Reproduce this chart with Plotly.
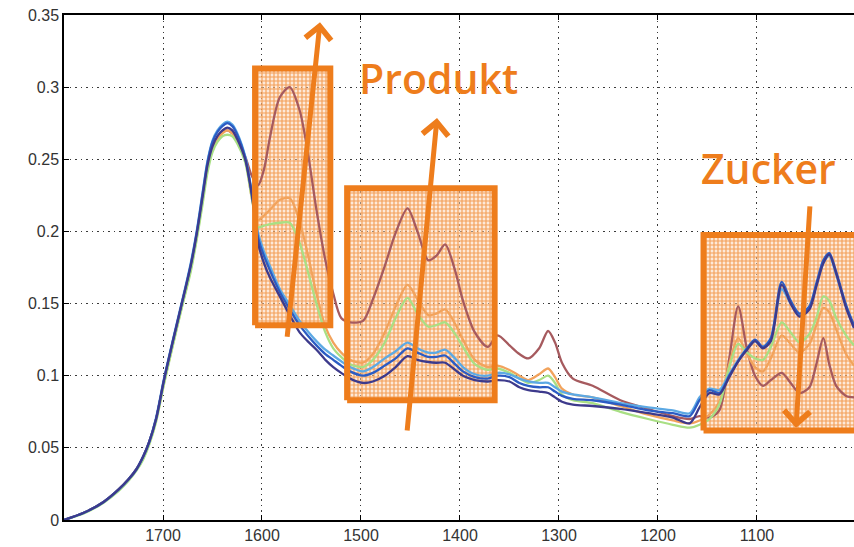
import plotly.graph_objects as go

# Wavenumber grid (cm^-1), shared by all spectra
wavenumber = [
    1800, 1780, 1760, 1745, 1735, 1727, 1720, 1714, 1707, 1699,
    1690, 1681, 1672, 1666, 1660, 1655, 1650, 1645, 1640, 1635,
    1630, 1625, 1617,
    1610, 1604, 1598, 1592, 1582, 1572, 1562, 1554, 1545, 1536,
    1528, 1520, 1511, 1498, 1488, 1476, 1465, 1453, 1443, 1432,
    1424, 1415, 1405, 1397, 1385, 1372, 1362, 1350, 1340, 1331,
    1320, 1311, 1304, 1297, 1286, 1266, 1238, 1210, 1185, 1168,
    1158, 1148, 1138, 1128, 1119, 1110, 1102, 1094, 1086, 1075,
    1066, 1057, 1047, 1040, 1033, 1027, 1020, 1010, 1002,
]

# Absorbance spectra
absorb_navy = [
    0.000, 0.005, 0.0125, 0.021, 0.028, 0.035, 0.044, 0.054, 0.070, 0.097,
    0.124, 0.150, 0.176, 0.198, 0.224, 0.246, 0.259, 0.266, 0.270, 0.272,
    0.270, 0.264, 0.250,
    0.224, 0.192, 0.178, 0.168, 0.155, 0.142, 0.130, 0.124, 0.118, 0.111,
    0.106, 0.102, 0.098, 0.095, 0.096, 0.100, 0.106, 0.1135, 0.111, 0.1095,
    0.109, 0.109, 0.104, 0.100, 0.097, 0.096, 0.097, 0.096, 0.092, 0.090,
    0.089, 0.088, 0.085, 0.082, 0.080, 0.079, 0.077, 0.074, 0.071, 0.067,
    0.078, 0.088, 0.087, 0.099, 0.110, 0.118, 0.124, 0.119, 0.124, 0.163,
    0.150, 0.141, 0.146, 0.162, 0.178, 0.184, 0.171, 0.147, 0.133,
]
absorb_blue = [
    0.000, 0.005, 0.0125, 0.021, 0.028, 0.035, 0.044, 0.054, 0.070, 0.097,
    0.124, 0.150, 0.177, 0.199, 0.226, 0.248, 0.262, 0.269, 0.273, 0.275,
    0.273, 0.267, 0.251,
    0.225, 0.196, 0.183, 0.173, 0.158, 0.146, 0.135, 0.128, 0.121, 0.115,
    0.111, 0.107, 0.103, 0.100, 0.102, 0.107, 0.112, 0.119, 0.116, 0.113,
    0.113, 0.114, 0.108, 0.103, 0.099, 0.098, 0.100, 0.099, 0.095, 0.093,
    0.092, 0.092, 0.089, 0.086, 0.084, 0.083, 0.080, 0.076, 0.074, 0.072,
    0.083, 0.090, 0.088, 0.100, 0.110, 0.119, 0.125, 0.120, 0.126, 0.165,
    0.152, 0.143, 0.148, 0.164, 0.180, 0.185, 0.172, 0.149, 0.135,
]
absorb_lightblue = [
    0.000, 0.005, 0.0125, 0.021, 0.028, 0.035, 0.044, 0.054, 0.071, 0.098,
    0.125, 0.151, 0.178, 0.200, 0.227, 0.249, 0.263, 0.270, 0.274, 0.276,
    0.274, 0.268, 0.252,
    0.226, 0.199, 0.186, 0.176, 0.160, 0.149, 0.138, 0.131, 0.124, 0.118,
    0.114, 0.110, 0.106, 0.103, 0.106, 0.112, 0.117, 0.123, 0.119, 0.116,
    0.116, 0.118, 0.112, 0.106, 0.101, 0.100, 0.102, 0.101, 0.098, 0.096,
    0.095, 0.095, 0.092, 0.089, 0.087, 0.085, 0.081, 0.078, 0.076, 0.074,
    0.085, 0.091, 0.090, 0.101, 0.111, 0.119, 0.124, 0.120, 0.126, 0.160,
    0.150, 0.142, 0.148, 0.163, 0.178, 0.183, 0.170, 0.148, 0.134,
]
absorb_green = [
    0.000, 0.0045, 0.012, 0.020, 0.027, 0.034, 0.042, 0.052, 0.068, 0.094,
    0.121, 0.147, 0.172, 0.194, 0.219, 0.241, 0.255, 0.262, 0.266, 0.267,
    0.266, 0.261, 0.248,
    0.222, 0.203, 0.204, 0.205, 0.206, 0.206, 0.192, 0.173, 0.150, 0.130,
    0.119, 0.113, 0.108, 0.106, 0.111, 0.123, 0.140, 0.154, 0.143, 0.134,
    0.135, 0.137, 0.129, 0.120, 0.108, 0.104, 0.105, 0.102, 0.098, 0.095,
    0.097, 0.100, 0.095, 0.087, 0.083, 0.081, 0.075, 0.070, 0.066, 0.064,
    0.066, 0.070, 0.080, 0.106, 0.122, 0.116, 0.112, 0.111, 0.120, 0.137,
    0.130, 0.123, 0.129, 0.140, 0.155, 0.152, 0.140, 0.128, 0.121,
]
absorb_orange = [
    0.000, 0.005, 0.0125, 0.021, 0.028, 0.035, 0.043, 0.053, 0.069, 0.095,
    0.122, 0.148, 0.174, 0.196, 0.222, 0.244, 0.257, 0.264, 0.268, 0.270,
    0.268, 0.263, 0.250,
    0.222, 0.208, 0.211, 0.215, 0.222, 0.223, 0.207, 0.185, 0.157, 0.134,
    0.123, 0.116, 0.111, 0.109, 0.115, 0.130, 0.148, 0.163, 0.153, 0.142,
    0.143, 0.146, 0.136, 0.125, 0.111, 0.106, 0.107, 0.104, 0.100, 0.097,
    0.101, 0.105, 0.099, 0.091, 0.087, 0.085, 0.079, 0.073, 0.069, 0.067,
    0.069, 0.073, 0.082, 0.108, 0.126, 0.115, 0.106, 0.103, 0.112, 0.128,
    0.122, 0.116, 0.122, 0.135, 0.147, 0.144, 0.132, 0.115, 0.107,
]
absorb_brown = [
    0.000, 0.005, 0.0125, 0.021, 0.028, 0.035, 0.044, 0.054, 0.070, 0.096,
    0.123, 0.149, 0.175, 0.197, 0.223, 0.245, 0.258, 0.265, 0.269, 0.270,
    0.268, 0.264, 0.252,
    0.238, 0.232, 0.243, 0.265, 0.293, 0.300, 0.284, 0.256, 0.215, 0.180,
    0.157, 0.140, 0.137, 0.138, 0.153, 0.176, 0.199, 0.216, 0.200, 0.180,
    0.183, 0.191, 0.173, 0.152, 0.130, 0.120, 0.128, 0.121, 0.115, 0.112,
    0.119, 0.131, 0.123, 0.109, 0.098, 0.093, 0.083, 0.077, 0.072, 0.070,
    0.072, 0.071, 0.076, 0.112, 0.148, 0.118, 0.100, 0.093, 0.097, 0.102,
    0.095, 0.088, 0.092, 0.108, 0.126, 0.108, 0.093, 0.086, 0.085,
]

spectra = [
    (absorb_brown, "#a65a5e"),
    (absorb_orange, "#f2a35c"),
    (absorb_green, "#a9df84"),
    (absorb_lightblue, "#5ca9e4"),
    (absorb_blue, "#2b5cc4"),
    (absorb_navy, "#3d3a8c"),
]

# Highlighted bands: (wn left, wn right, absorbance bottom, absorbance top)
band_c = [1607, 1531, 0.135, 0.313]
band_amide = [1514, 1365, 0.083, 0.230]
band_sugar = [1154, 996, 0.062, 0.1975]
bands = [band_c, band_amide, band_sugar]

# Trend arrows: head position (wn, absorbance) and tail offset in pixels
arrow_heads = [(1541.4, 0.345), (1423.2, 0.2786), (1060.6, 0.0638)]
arrow_tails = [(-33, 316), (-30, 314), (14, -223)]

ORANGE = "#ee7d1c"
fig = go.Figure()


def band_outline(band):
    left, right, bottom, top = band
    return [left, right, right, left, left], [bottom, bottom, top, top, bottom]


# Hatched band fills sit underneath the spectra
for band in bands:
    bx, by = band_outline(band)
    fig.add_trace(go.Scatter(
        x=bx, y=by, mode="lines", fill="toself",
        fillcolor="rgba(247,185,135,0.45)",
        fillpattern=dict(shape="+", size=4, solidity=0.5,
                         fgcolor="#f08c38", fgopacity=0.8,
                         bgcolor="rgba(252,212,180,0.5)"),
        line=dict(width=0, color="rgba(0,0,0,0)"),
        showlegend=False, hoverinfo="skip",
    ))

for values, color in spectra:
    fig.add_trace(go.Scatter(
        x=wavenumber, y=values, mode="lines",
        line=dict(color=color, width=2.3, shape="spline", smoothing=0.8),
        showlegend=False, hoverinfo="skip",
    ))

# Band frames drawn over the spectra
for band in bands:
    bx, by = band_outline(band)
    fig.add_trace(go.Scatter(
        x=bx, y=by, mode="lines",
        line=dict(color=ORANGE, width=6),
        showlegend=False, hoverinfo="skip",
    ))

annotations = []
for (hx, hy), (ax, ay) in zip(arrow_heads, arrow_tails):
    annotations.append(dict(
        x=hx, y=hy, xref="x", yref="y", text="",
        showarrow=True, axref="pixel", ayref="pixel", ax=ax, ay=ay,
        arrowhead=4, arrowsize=1.0, arrowwidth=5, arrowcolor=ORANGE,
        standoff=0,
    ))
label_font = dict(family="Open Sans", size=41, color=ORANGE, weight=600)
annotations.append(dict(x=1422, y=0.306, xref="x", yref="y", text="Produkt",
                        showarrow=False, xanchor="center", yanchor="middle",
                        font=label_font))
annotations.append(dict(x=1088, y=0.244, xref="x", yref="y", text="Zucker",
                        showarrow=False, xanchor="center", yanchor="middle",
                        font=label_font))

tick_font = dict(family="Liberation Sans", size=16, color="#333333")
grid_style = dict(showgrid=True, gridcolor="#3a3a3a", gridwidth=1.4,
                  griddash="1.5px,4px")
fig.update_layout(
    width=854, height=547,
    margin=dict(l=64, r=0, t=15, b=27),
    paper_bgcolor="white", plot_bgcolor="white",
    annotations=annotations,
    xaxis=dict(
        range=[1800, 1002],
        tickvals=[1700, 1600, 1500, 1400, 1300, 1200, 1100],
        ticks="inside", ticklen=5, tickcolor="black",
        showline=True, linecolor="black", linewidth=1.8, mirror="ticks",
        zeroline=False, tickfont=tick_font, **grid_style,
    ),
    yaxis=dict(
        range=[0, 0.35],
        tickvals=[0, 0.05, 0.1, 0.15, 0.2, 0.25, 0.3, 0.35],
        ticktext=["0", "0.05", "0.1", "0.15", "0.2", "0.25", "0.3", "0.35"],
        ticks="inside", ticklen=5, tickcolor="black",
        showline=True, linecolor="black", linewidth=1.5,
        zeroline=False, tickfont=tick_font, **grid_style,
    ),
)

fig.write_html("out.html")
